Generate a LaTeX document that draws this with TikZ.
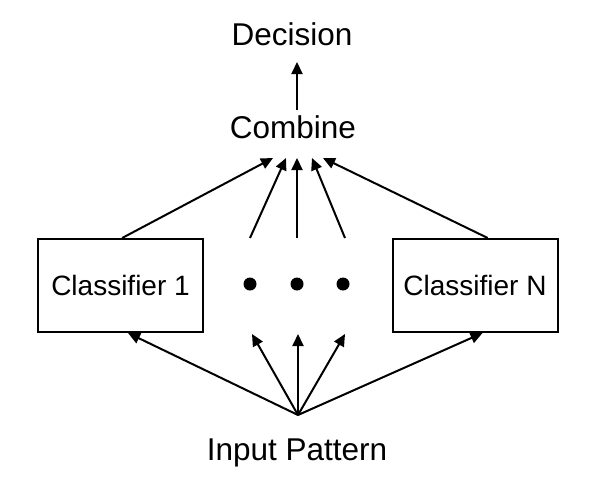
\documentclass[tikz,border=0pt]{standalone}
\usepackage{fontspec}
\setmainfont{Liberation Sans}
\usetikzlibrary{arrows.meta}

\begin{document}
\begin{tikzpicture}[x=1pt,y=-1pt]
    \tikzstyle{every node} = [font=\fontsize{31.5}{36}\selectfont]
    \tikzstyle{block} = [draw, rectangle, line width=2pt, minimum width=165pt, minimum height=93pt, font=\fontsize{28}{32}\selectfont]
    \tikzstyle{dot} = [circle, fill=black, inner sep=0pt, minimum size=13pt]
    \tikzstyle{link} = [line width=2pt, -{Triangle[length=12pt,width=11pt]}]
    \useasboundingbox (0,0) rectangle (605,488);
    % place nodes
    \node[anchor=base] (decision) at (292,45) {Decision};
    \node[anchor=base] (combine) at (293,138) {Combine};
    \node[block] (classifierOne) at (120.5,285.5) {Classifier 1};
    \node[block] (classifierN) at (475,285.5) {Classifier N};
    \node[dot] (dotA) at (250,284) {};
    \node[dot] (dotB) at (297,284) {};
    \node[dot] (dotC) at (343,284) {};
    \node[anchor=base] (input) at (297,460) {Input Pattern};

    % end points
    \coordinate (outTop) at (297,110);
    \coordinate (inTop) at (297,62);
    \coordinate (inA) at (273,158);
    \coordinate (inB) at (286,158);
    \coordinate (inC) at (297,158);
    \coordinate (inD) at (312,158);
    \coordinate (inE) at (323,158);
    \coordinate (upA) at (250,238);
    \coordinate (upB) at (297,238);
    \coordinate (upC) at (345,238);
    \coordinate (source) at (298,415);
    \coordinate (downA) at (252,334);
    \coordinate (downB) at (298,334);
    \coordinate (downC) at (345,334);

    % Connections
    \draw[link] (outTop) -- (inTop);
    \draw[link] (classifierOne.88) -- (inA);
    \draw[link] (upA) -- (inB);
    \draw[link] (upB) -- (inC);
    \draw[link] (upC) -- (inD);
    \draw[link] (classifierN.75) -- (inE);
    \draw[link] (source) -- (classifierOne.-81);
    \draw[link] (source) -- (downA);
    \draw[link] (source) -- (downB);
    \draw[link] (source) -- (downC);
    \draw[link] (source) -- (classifierN.-81);
\end{tikzpicture}
\end{document}
